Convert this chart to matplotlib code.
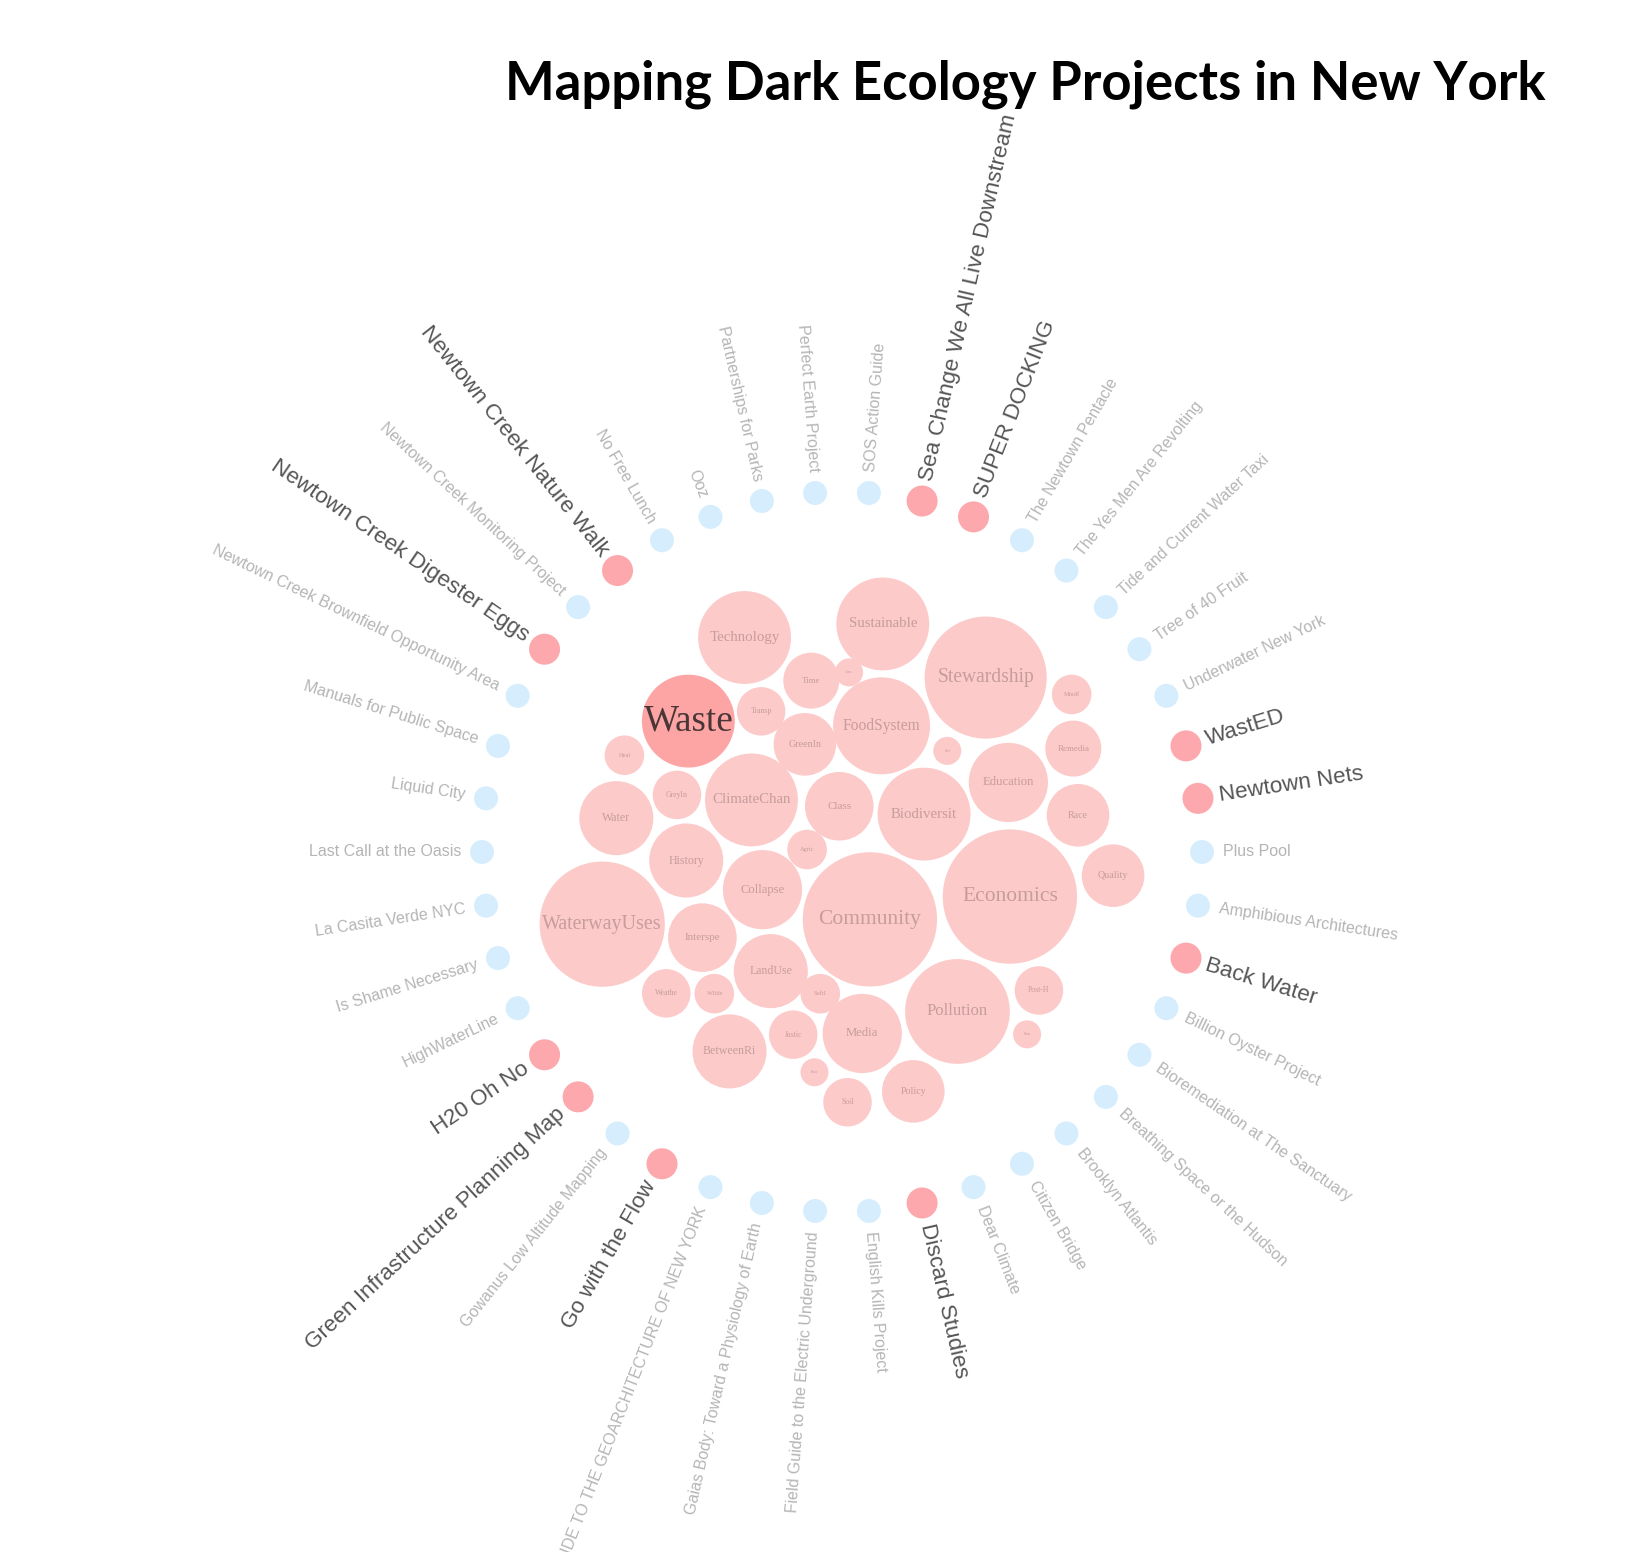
import numpy as np
import matplotlib
matplotlib.use('Agg')
import matplotlib.pyplot as plt
from matplotlib.patches import Circle

W, H = 1642, 1552

title = 'Mapping Dark Ecology Projects in New York'

# themes in the middle (label as shown in the bubble) and how many projects carry them
theme_labels = ['Agric', 'Collapse', 'Class', 'Community', 'ClimateChan', 'Biodiversit',
                'LandUse', 'GreenIn', 'Economics', 'Interspe', 'FoodSystem', 'Media',
                'GreyIn', 'Education', 'Wilde', 'Con', 'Pollution', 'History', 'Sci',
                'SoftI', 'Transp', 'Quality', 'Weathe', 'Sustainable', 'Policy', 'Heal',
                'Remedia', 'Justic', 'Time', 'Post-H', 'WaterwayUses', 'Stewardship',
                'Soil', 'Waste', 'Race', 'BetweenRi', 'Technology', 'Sou', 'Water',
                'Mindf', 'Fau']
theme_counts = [2, 8, 6, 23, 11, 11,
                7, 5, 23, 6, 12, 8,
                3, 8, 2, 1, 14, 7, 1,
                2, 3, 5, 3, 11, 5, 2,
                4, 3, 4, 3, 20, 19,
                3, 11, 5, 7, 11, 1, 7,
                2, 1]
selected_theme = 'Waste'

# projects round the ring, clockwise from the right
projects = ['Amphibious Architectures', 'Back Water', 'Billion Oyster Project',
            'Bioremediation at The Sanctuary', 'Breathing Space or the Hudson',
            'Brooklyn Atlantis', 'Citizen Bridge', 'Dear Climate', 'Discard Studies',
            'English Kills Project', 'Field Guide to the Electric Underground',
            'Gaias Body: Toward a Physiology of Earth',
            'GUIDE TO THE GEOARCHITECTURE OF NEW YORK', 'Go with the Flow',
            'Gowanus Low Altitude Mapping', 'Green Infrastructure Planning Map',
            'H20 Oh No', 'HighWaterLine', 'Is Shame Necessary', 'La Casita Verde NYC',
            'Last Call at the Oasis', 'Liquid City', 'Manuals for Public Space',
            'Newtown Creek Brownfield Opportunity Area', 'Newtown Creek Digester Eggs',
            'Newtown Creek Monitoring Project', 'Newtown Creek Nature Walk',
            'No Free Lunch', 'Ooz', 'Partnerships for Parks', 'Perfect Earth Project',
            'SOS Action Guide', 'Sea Change We All Live Downstream', 'SUPER DOCKING',
            'The Newtown Pentacle', 'The Yes Men Are Revolting',
            'Tide and Current Water Taxi', 'Tree of 40 Fruit', 'Underwater New York',
            'WastED', 'Newtown Nets', 'Plus Pool']
waste_projects = ['Back Water', 'Discard Studies', 'Go with the Flow',
                  'Green Infrastructure Planning Map', 'H20 Oh No',
                  'Newtown Creek Digester Eggs', 'Newtown Creek Nature Walk',
                  'Sea Change We All Live Downstream', 'SUPER DOCKING', 'WastED',
                  'Newtown Nets']


def pack_bubbles(radii, pad=8.0, steps=400):
    # simple collide + gravity relaxation, started on a sunflower spiral
    n = len(radii)
    k = np.arange(n)
    ang = k * np.pi * (3 - np.sqrt(5))
    dist0 = 45 * np.sqrt(0.5 + k)
    pos = np.column_stack([dist0 * np.cos(ang), dist0 * np.sin(ang)])
    w = radii ** 2
    share = w[None, :] / (w[:, None] + w[None, :])
    for step in range(steps):
        pos *= 0.985
        for _ in range(4):
            d = pos[:, None, :] - pos[None, :, :]
            dist = np.sqrt((d ** 2).sum(-1)) + np.eye(n)
            gap = radii[:, None] + radii[None, :] + pad - dist
            np.fill_diagonal(gap, 0)
            gap = np.clip(gap, 0, None)
            move = d / dist[..., None] * (gap * share)[..., None]
            pos += move.sum(1) * 0.5
    lo = (pos - radii[:, None]).min(0)
    hi = (pos + radii[:, None]).max(0)
    return pos - (lo + hi) / 2


fig = plt.figure(figsize=(W / 100, H / 100), dpi=100)
ax = fig.add_axes([0, 0, 1, 1])
ax.set_xlim(0, W)
ax.set_ylim(H, 0)
ax.axis('off')

cx, cy = 842, 852

# bubbles
radii = 14.0 * np.sqrt(np.array(theme_counts, dtype=float))
xy = pack_bubbles(radii)
for (bx, by), r, lab in zip(xy, radii, theme_labels):
    sel = lab == selected_theme
    ax.add_patch(Circle((cx + bx, cy + by), r, facecolor='#fda5a5' if sel else '#fdcaca',
                        edgecolor='none'))
    fs = (0.8 if sel else 0.32) * r * 0.72
    ax.text(cx + bx, cy + by, lab, ha='center', va='center', fontsize=fs,
            family='Liberation Serif', color='#4a3636' if sel else '#c69c9c')

# ring of projects
R = 360
n = len(projects)
for i, name in enumerate(projects):
    th = -(i + 1) * 360.0 / n
    t = np.radians(th)
    hot = name in waste_projects
    px, py = cx + R * np.cos(t), cy - R * np.sin(t)
    ax.add_patch(Circle((px, py), 15.5 if hot else 12,
                        facecolor='#fda8ac' if hot else '#d6edfd', edgecolor='none'))
    lx, ly = cx + (R + 21) * np.cos(t), cy - (R + 21) * np.sin(t)
    if np.cos(t) >= -1e-9:
        rot, ha = th, 'left'
    else:
        rot, ha = th + 180, 'right'
    ax.text(lx, ly, name, rotation=rot, rotation_mode='anchor', ha=ha, va='center',
            fontsize=16.2 if hot else 11.5, family='Liberation Sans',
            color='#555555' if hot else '#b5b5b5')

# title, sized to the reference width
tt = ax.text(1025, 84, title, ha='center', va='center', fontsize=36,
             family='Lato', weight='bold', color='black')
fig.canvas.draw()
bw = tt.get_window_extent().width
tt.set_fontsize(36 * 1040 / bw)

fig.savefig('out.png', dpi=100)
